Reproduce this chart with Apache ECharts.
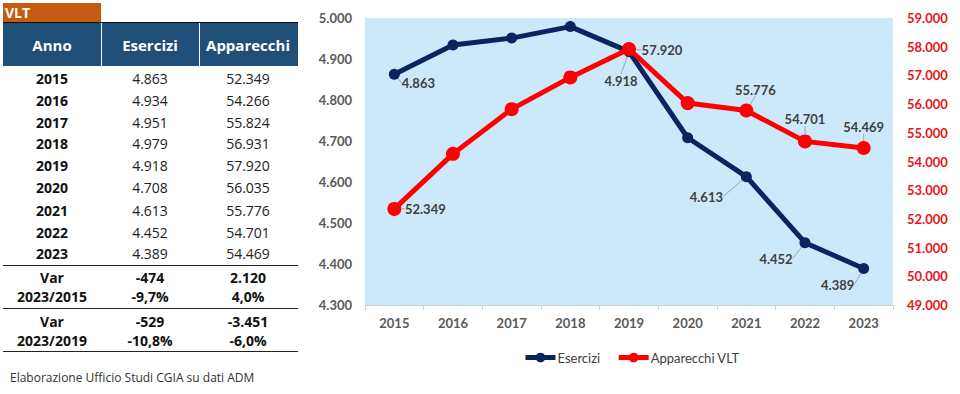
<!DOCTYPE html>
<html><head><meta charset="utf-8">
<script src="https://cdn.jsdelivr.net/npm/echarts@6/dist/echarts.min.js"></script>
<style>
html,body{margin:0;padding:0;width:960px;height:394px;overflow:hidden;background:#fff;}
#chart{position:absolute;left:0;top:0;width:960px;height:394px;}
#tbl{position:absolute;left:0;top:0;width:300px;height:394px;font-family:'Open Sans',sans-serif;color:#111;}
.c{position:absolute;transform:translate(-50%,-50%);white-space:nowrap;font-size:14px;line-height:1;}
.b{font-weight:700;}
.hl{position:absolute;left:3px;width:295px;height:1px;background:#222;}
</style></head><body>
<div id="chart"></div><div id="tbl"></div>
<script>
// ---- data ----
const years = ['2015','2016','2017','2018','2019','2020','2021','2022','2023'];
const esercizi = [4863,4934,4951,4979,4918,4708,4613,4452,4389];
const apparecchi = [52349,54266,55824,56931,57920,56035,55776,54701,54469];
const seriesNames = ['Esercizi','Apparecchi VLT'];
const leftTicks = [4300,5000,100];
const rightTicks = [49000,59000,1000];
const eserciziLabeled = [0,4,6,7,8];
const apparecchiLabeled = [0,4,6,7,8];
const tableTitle = 'VLT';
const tableHeaders = ['Anno','Esercizi','Apparecchi'];
const varLabel1 = ['Var','2023/2015'];
const varEse1 = ['-474','-9,7%'];
const varApp1 = ['2.120','4,0%'];
const varLabel2 = ['Var','2023/2019'];
const varEse2 = ['-529','-10,8%'];
const varApp2 = ['-3.451','-6,0%'];
const footer = 'Elaborazione Ufficio Studi CGIA su dati ADM';

function fmt(v){return String(v).replace(/\B(?=(\d{3})+(?!\d))/g,'.');}

// ---- table (HTML) ----
const tbl = document.getElementById('tbl');
function add(html){tbl.insertAdjacentHTML('beforeend',html);}
function cell(text,x,y,cls,extra){add('<div class="c '+(cls||'')+'" style="left:'+x+'px;top:'+y+'px;'+(extra||'')+'">'+text+'</div>');}
add('<div style="position:absolute;left:3px;top:3px;width:98px;height:19px;background:#c55a11;"></div>');
add('<div style="position:absolute;left:5px;top:3px;height:19px;line-height:19px;color:#fff;font-weight:700;font-size:14px;">'+tableTitle+'</div>');
add('<div style="position:absolute;left:3px;top:22px;width:295px;height:44px;background:#1f4e79;border-top:1.5px solid #111;box-sizing:border-box;"></div>');
add('<div style="position:absolute;left:101px;top:23px;width:1px;height:43px;background:#fff;"></div>');
add('<div style="position:absolute;left:199px;top:23px;width:1px;height:43px;background:#fff;"></div>');
const colX = [52,150,248];
tableHeaders.forEach((h,i)=>cell(h,colX[i],45,'b','color:#fff;font-size:15px;'));
const rowY = [79,101,123,144,166,188,211,233,254];
years.forEach((y,i)=>{
  cell(y,colX[0],rowY[i],'b');
  cell(fmt(esercizi[i]),colX[1],rowY[i],'','color:#222;');
  cell(fmt(apparecchi[i]),colX[2],rowY[i],'','color:#222;');
});
add('<div class="hl" style="top:265px;"></div>');
[[varLabel1,varEse1,varApp1,[278,297]],[varLabel2,varEse2,varApp2,[322,341]]].forEach(g=>{
  for(let k=0;k<2;k++){
    cell(g[0][k],colX[0],g[3][k],'b');
    cell(g[1][k],colX[1],g[3][k],'b');
    cell(g[2][k],colX[2],g[3][k],'b');
  }
});
add('<div class="hl" style="top:308px;"></div>');
add('<div class="hl" style="top:351px;"></div>');
add('<div style="position:absolute;left:10px;top:369px;font-size:12px;color:#333;white-space:nowrap;">'+footer+'</div>');

// ---- chart ----
const eseOff = {0:[24,9],4:[-8,29],6:[-40,20],7:[-29,16],8:[-26,16]};
const appOff = {0:[31,0],4:[33,1],6:[9,-21],7:[0,-22],8:[0,-21]};
const labelStyle = {show:true,position:'inside',fontFamily:'Lato',fontWeight:'bold',fontSize:13,color:'#404040',formatter:p=>fmt(p.value)};
function mk(vals,labeled){return vals.map((v,i)=>({value:v,label:{show:labeled.indexOf(i)>=0}}));}
const chart = echarts.init(document.getElementById('chart'),null,{renderer:'svg'});
chart.setOption({
  animation:false,
  textStyle:{fontFamily:'Lato'},
  grid:{left:365,right:67,top:18,bottom:89,show:true,backgroundColor:'#cce9fb',borderWidth:0},
  legend:{top:346,left:518,itemWidth:30,itemHeight:12,itemGap:16,
    lineStyle:{width:5},
    textStyle:{fontFamily:'Lato',fontSize:13,color:'#404040',padding:[0,0,0,-3]},data:seriesNames},
  xAxis:{type:'category',data:years,boundaryGap:true,
    axisLine:{lineStyle:{color:'#d0d0d0'}},axisTick:{show:true,length:5,lineStyle:{color:'#d0d0d0'}},
    axisLabel:{margin:11,fontFamily:'Lato',fontWeight:'bold',fontSize:13,color:'#595959'}},
  yAxis:[
    {type:'value',min:leftTicks[0],max:leftTicks[1],interval:leftTicks[2],splitLine:{show:false},
     axisLine:{show:false},axisTick:{show:false},
     axisLabel:{margin:13,fontFamily:'Lato',fontWeight:'bold',fontSize:13,color:'#595959',formatter:v=>fmt(v)}},
    {type:'value',min:rightTicks[0],max:rightTicks[1],interval:rightTicks[2],splitLine:{show:false},
     axisLine:{show:false},axisTick:{show:false},
     axisLabel:{margin:14,fontFamily:'Lato',fontWeight:'bold',fontSize:13,color:'#e8141b',formatter:v=>fmt(v)}}
  ],
  series:[
    {name:seriesNames[0],type:'line',yAxisIndex:0,data:mk(esercizi,eserciziLabeled),
     symbol:'circle',symbolSize:11,z:2,
     lineStyle:{color:'#0b2360',width:5},itemStyle:{color:'#0b2360'},
     label:labelStyle,
     labelLine:{show:true,lineStyle:{color:'#a6a6a6',width:1}},
     labelLayout:p=>{const o=eseOff[p.dataIndex]||[0,0];return {dx:o[0],dy:o[1]};}},
    {name:seriesNames[1],type:'line',yAxisIndex:1,data:mk(apparecchi,apparecchiLabeled),
     symbol:'circle',symbolSize:14,z:3,
     lineStyle:{color:'#ff0000',width:5},itemStyle:{color:'#ff0000'},
     label:labelStyle,
     labelLine:{show:true,lineStyle:{color:'#a6a6a6',width:1}},
     labelLayout:p=>{const o=appOff[p.dataIndex]||[0,0];return {dx:o[0],dy:o[1]};}}
  ]
});
</script>
</body></html>
